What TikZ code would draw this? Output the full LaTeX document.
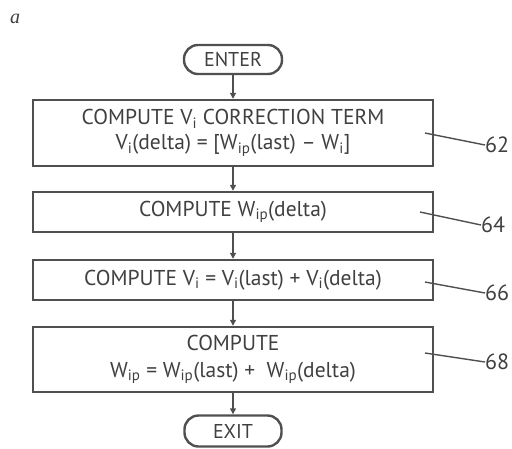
\documentclass[tikz,border=0pt]{standalone}
\usepackage{fontspec}
\setmainfont{PT Sans}
\usetikzlibrary{arrows.meta}
\definecolor{ln}{HTML}{505050}
\definecolor{tx}{HTML}{404040}
\tikzset{
  flowbox/.style={draw=ln, line width=2.4pt, minimum width=400pt, inner sep=0pt, align=center, text=tx, font=\fontsize{21.5}{25}\selectfont},
  term/.style={draw=ln, line width=2.4pt, rounded corners=14pt, inner sep=0pt, text=tx, font=\fontsize{20}{22}\selectfont},
  flow/.style={draw=ln, line width=1.4pt, -{Triangle[length=6pt,width=6pt]}},
  leader/.style={draw=ln, line width=1.4pt},
  refnum/.style={text=tx, font=\fontsize{22}{24}\selectfont, inner sep=0pt, anchor=west}
}
\begin{document}
\begin{tikzpicture}[x=1pt,y=-1pt]
\useasboundingbox (0,0) rectangle (512,448);
\node[font=\itshape\fontsize{20}{22}\selectfont, text=tx] (lab) at (15,19) {\fontspec{Liberation Serif}a};
\node[term, minimum width=98pt, minimum height=29pt] (enter) at (233,59.5) {ENTER};
\node[flowbox, minimum height=66pt] (b1) at (233,133) {COMPUTE V\textsubscript{i} CORRECTION TERM\\V\textsubscript{i}(delta) = [W\textsubscript{ip}(last) -- W\textsubscript{i}]};
\node[flowbox, minimum height=40pt] (b2) at (233,212) {COMPUTE W\textsubscript{ip}(delta)};
\node[flowbox, minimum height=40pt] (b3) at (233,280) {COMPUTE V\textsubscript{i} = V\textsubscript{i}(last) + V\textsubscript{i}(delta)};
\node[flowbox, minimum height=65pt, font=\fontsize{21.5}{27}\selectfont] (b4) at (233,359.5) {COMPUTE\\W\textsubscript{ip} = W\textsubscript{ip}(last) + \ W\textsubscript{ip}(delta)};
\node[term, minimum width=97pt, minimum height=31pt] (exit) at (233,431) {EXIT};
\draw[flow] (enter) -- (b1);
\draw[flow] (b1) -- (b2);
\draw[flow] (b2) -- (b3);
\draw[flow] (b3) -- (b4);
\draw[flow] (b4) -- (exit);
\node[refnum] (n62) at (485,145) {62};
\node[refnum] (n64) at (481,225) {64};
\node[refnum] (n66) at (485,293) {66};
\node[refnum] (n68) at (485,362) {68};
\coordinate (s62) at (425,133);
\coordinate (s64) at (420,212);
\coordinate (s66) at (425,282);
\coordinate (s68) at (425,353);
\draw[leader] (s62) -- (n62.west);
\draw[leader] (s64) -- (n64.west);
\draw[leader] (s66) -- (n66.west);
\draw[leader] (s68) -- (n68.west);
\end{tikzpicture}
\end{document}
